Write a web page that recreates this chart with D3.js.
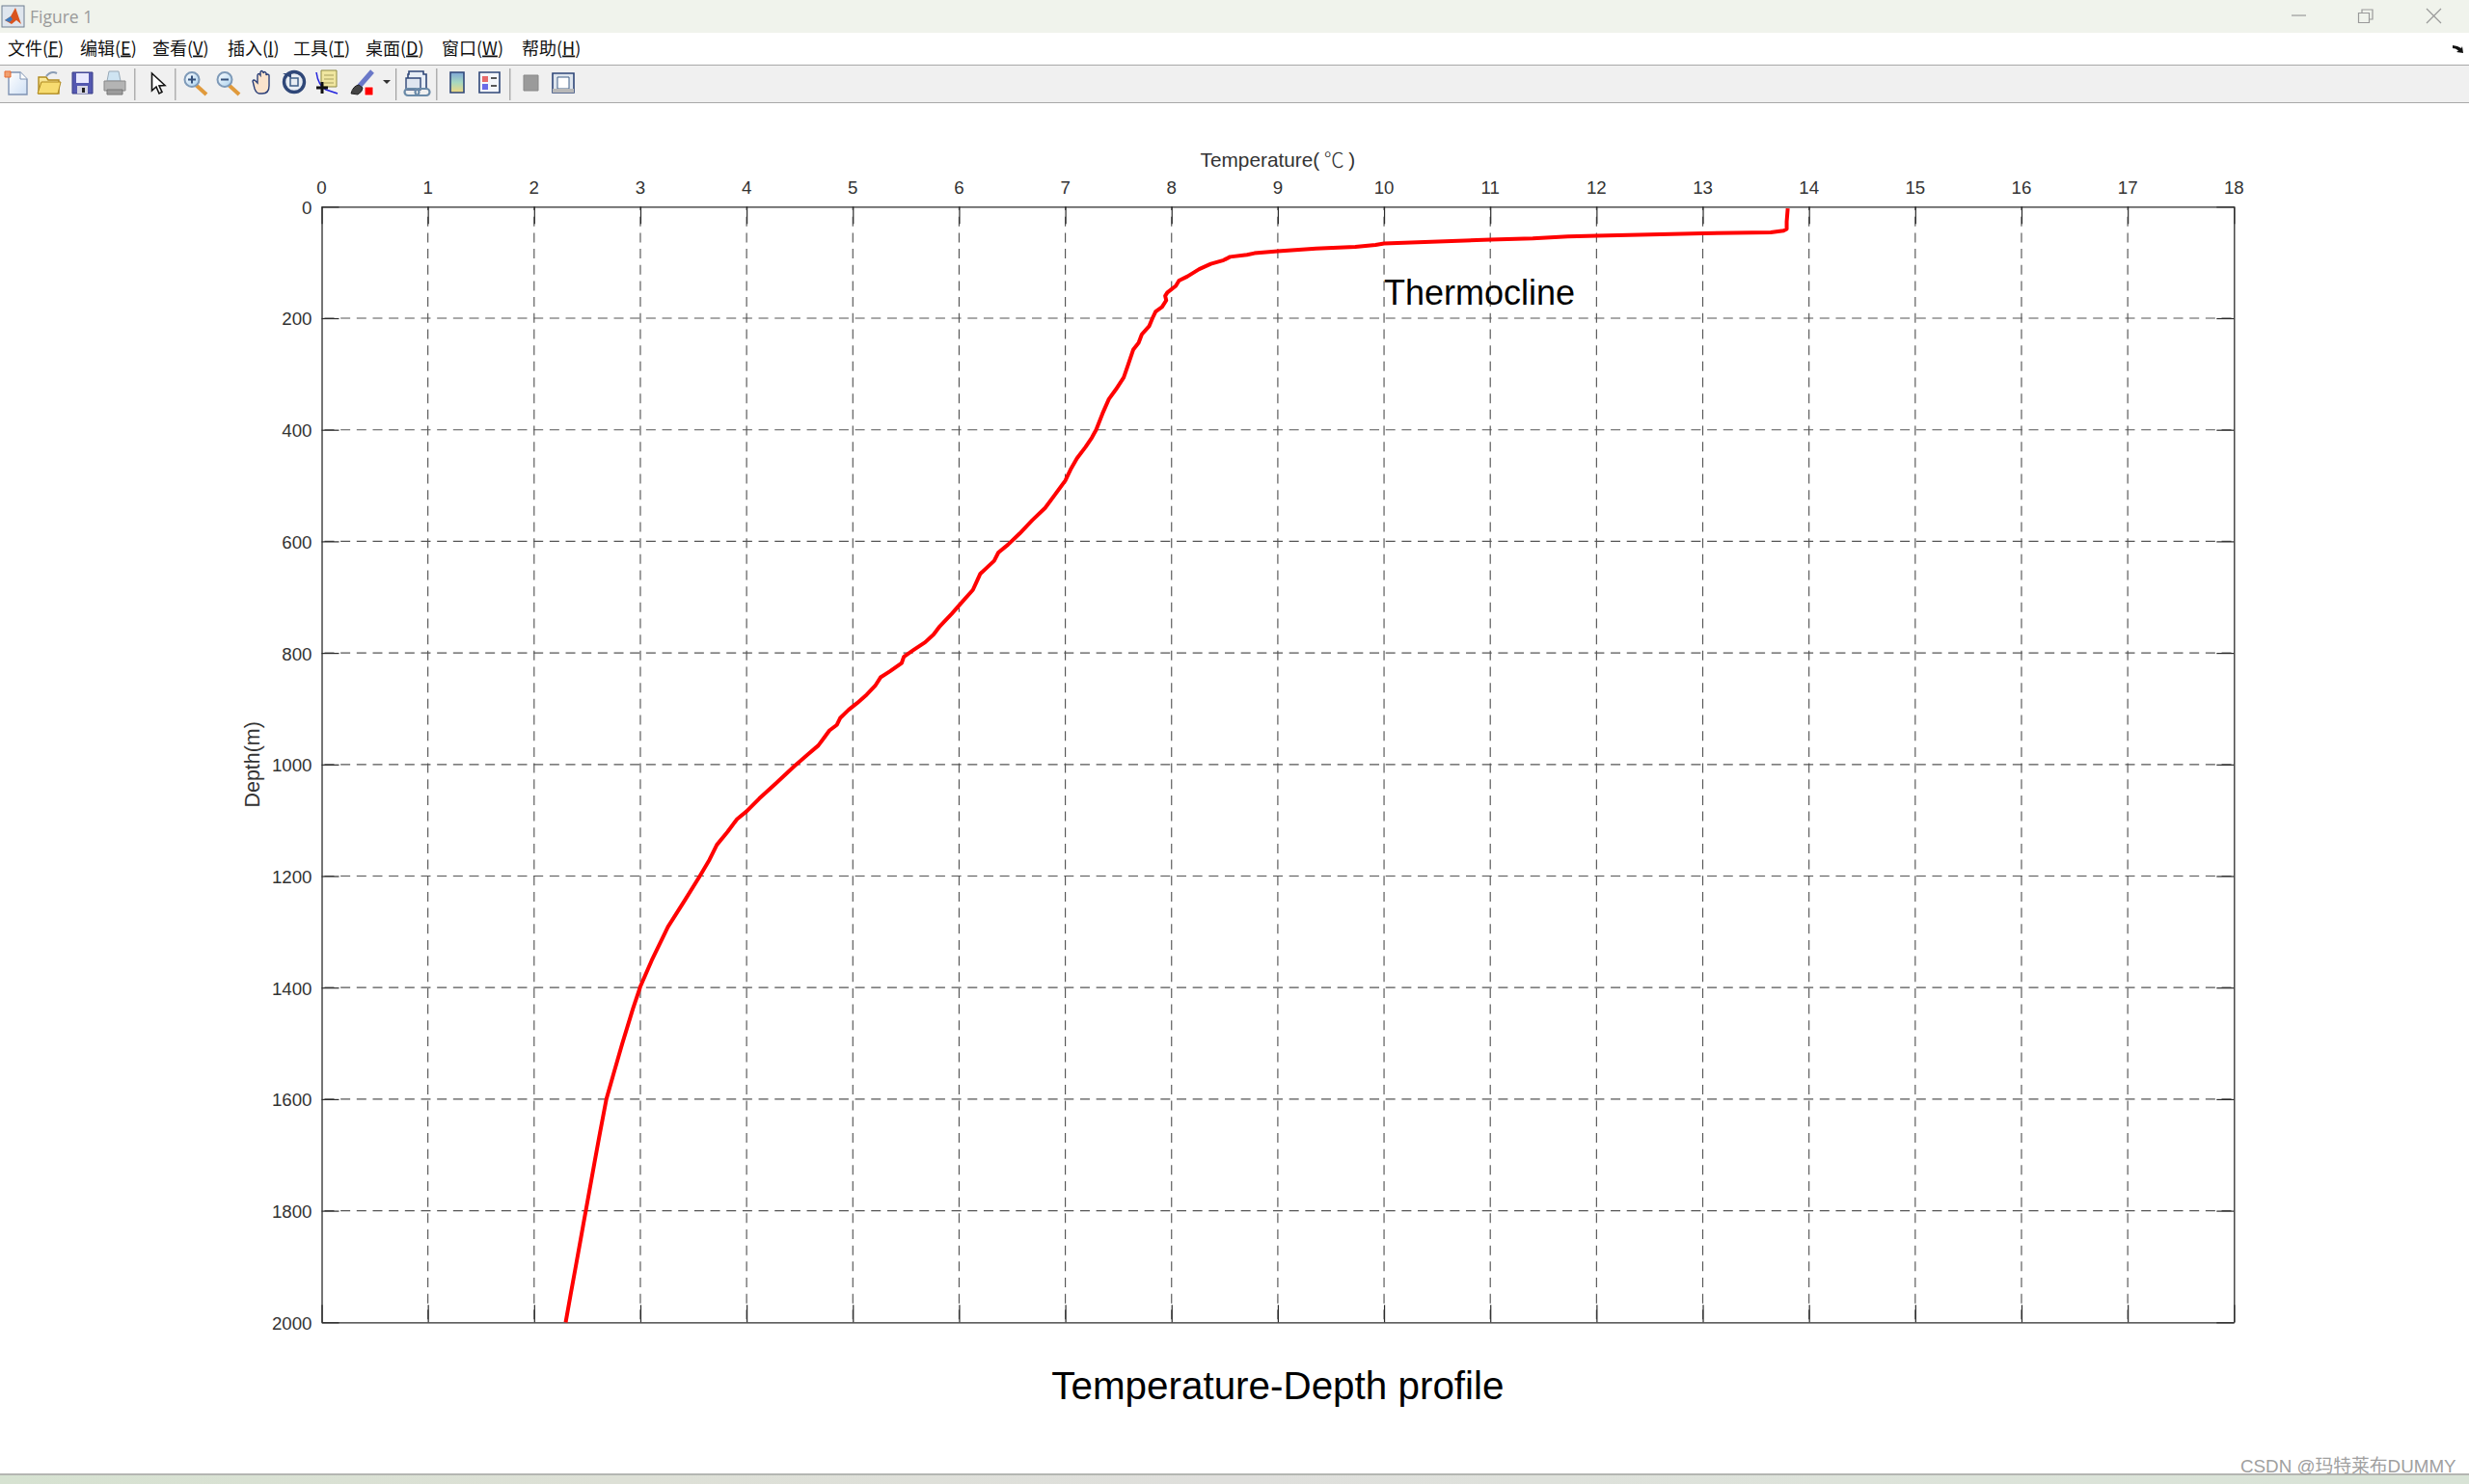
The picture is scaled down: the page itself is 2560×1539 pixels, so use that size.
<!DOCTYPE html>
<html>
<head>
<meta charset="utf-8">
<title>Figure 1</title>
<script src="https://cdn.jsdelivr.net/npm/d3@7"></script>
<style>
html,body{margin:0;padding:0;background:#fff;overflow:hidden}
svg{display:block}
text{font-family:"Liberation Sans",Arial,sans-serif}
</style>
</head>
<body>
<div id="chart"></div>
<script>
// ---- data ----
const depthValues = [3,27,40,43,46,48,52,53.6,57,59,66,68.6,72,75,80,83.5,86.4,90,96,102.6,112,125,132.5,142,154,160,168,180,188,200,214,229,244,256,284,306,328,345,371,400,414,431,451,471,491,517,540,562,586,606,620,635,658,687,704,730,752,767,781,795,807,818,833,844,859,875,890,902,917,929,939,952,966,983,1003,1035,1061,1084,1098,1121,1144,1171,1200,1246,1291,1352,1398,1438,1500,1553,1600,1660,1714,1793,1850,1904,1951,2000];
const tempValues = [13.8,13.79,13.79,13.76,13.64,13,12,11.73,11.4,11,10,9.92,9.73,9.36,9,8.78,8.71,8.55,8.49,8.37,8.26,8.15,8.07,8.04,7.96,7.94,7.95,7.91,7.85,7.82,7.79,7.72,7.69,7.64,7.59,7.55,7.475,7.41,7.35,7.29,7.25,7.19,7.11,7.05,7,6.9,6.81,6.69,6.57,6.46,6.37,6.33,6.2,6.13,6.05,5.93,5.82,5.76,5.68,5.57,5.48,5.46,5.35,5.26,5.21,5.13,5.04,4.96,4.88,4.85,4.78,4.73,4.675,4.57,4.45,4.27,4.12,4,3.91,3.82,3.72,3.65,3.56,3.41,3.26,3.105,3,2.93,2.83,2.75,2.68,2.62,2.568,2.493,2.439,2.388,2.343,2.297];
const tempTicks = d3.range(0, 19);
const depthTicks = [0,200,400,600,800,1000,1200,1400,1600,1800,2000];
const menuItems = [["文件","F",8],["编辑","E",83],["查看","V",158],["插入","I",236],["工具","T",304],["桌面","D",379],["窗口","W",458],["帮助","H",541]];
const separators = [139.7,181.7,410.5,452.7,528.7];

const W = 2560, H = 1539;
const box = {l:333.5, r:2316.3, t:214.3, b:1371.3};
const ink = "#2b2b2b";

const svg = d3.select("#chart").append("svg").attr("width",W).attr("height",H).attr("viewBox",`0 0 ${W} ${H}`);
const defs = svg.append("defs");
const grad = (id, stops, x2=1, y2=0) => {
  const g = defs.append("linearGradient").attr("id",id).attr("x1",0).attr("y1",0).attr("x2",x2).attr("y2",y2);
  stops.forEach(([o,c]) => g.append("stop").attr("offset",o).attr("stop-color",c));
};
grad("bottomStrip",[[0,"#d6e2d1"],[.25,"#dde0d6"],[.5,"#dfdfdc"],[.75,"#dde3da"],[1,"#d8e3d6"]]);
grad("cbar",[[0,"#7fa8d8"],[.5,"#a6d8c0"],[1,"#f0d880"]],0,1);
grad("docF",[[0,"#ffffff"],[1,"#cfe0f5"]],1,1);
grad("folder",[[0,"#fff2a8"],[1,"#d9a93a"]],0,1);
grad("glass",[[0,"#ffffff"],[1,"#a8d0ee"]],1,1);

// ---- window chrome ----
const chrome = svg.append("g");
chrome.append("rect").attr("width",W).attr("height",34).attr("fill","#f0f3ec");
chrome.append("rect").attr("y",34).attr("width",W).attr("height",33).attr("fill","#ffffff");
chrome.append("rect").attr("y",67).attr("width",W).attr("height",1).attr("fill","#a8a8a8");
chrome.append("rect").attr("y",68).attr("width",W).attr("height",38).attr("fill","#f0f0f0");
chrome.append("rect").attr("y",106).attr("width",W).attr("height",1).attr("fill","#a8a8a8");
chrome.append("rect").attr("y",1528).attr("width",W).attr("height",2).attr("fill","#b4b6b2");
chrome.append("rect").attr("y",1530).attr("width",W).attr("height",9).attr("fill","url(#bottomStrip)");

// app icon
const ico = chrome.append("g");
ico.append("rect").attr("x",2).attr("y",6).attr("width",23).attr("height",22).attr("fill","#dfe6ee").attr("stroke","#6f7f90").attr("stroke-width",1);
ico.append("path").attr("d","M5 21 L11 17 L16 8 L22 25 L17 21 L12 25 Z").attr("fill","#d9541e");
ico.append("path").attr("d","M5 21 L11 17 L13 20 L10 23 Z").attr("fill","#3a7cc0");
chrome.append("text").text("Figure 1").attr("x",31).attr("y",24).attr("fill","#9a9a9a")
  .style("font-family","'Open Sans','Noto Sans',sans-serif").style("font-size","17.5px");

// window buttons
chrome.append("path").attr("d","M2376 16H2391").attr("stroke","#999").attr("stroke-width",1.2).attr("fill","none");
chrome.append("path").attr("d","M2445.5 13.5h11v10h-11zM2449 13v-3h11v10h-3").attr("stroke","#999").attr("stroke-width",1.2).attr("fill","none");
chrome.append("path").attr("d","M2516 9L2531 24M2531 9L2516 24").attr("stroke","#999").attr("stroke-width",1.2).attr("fill","none");
chrome.append("path").attr("d","M2543 47l5 1 4 2 1-2 1 7-7 -1 2-1.500-3-2-3-.5z").attr("fill","#111");

// menu
menuItems.forEach(([zh,key,x]) => {
  const t = chrome.append("text").attr("x",x).attr("y",56.5).attr("fill","#111")
    .style("font-family","'Noto Sans CJK SC','Noto Sans',sans-serif").style("font-size","18px");
  t.append("tspan").text(zh + "(");
  t.append("tspan").text(key).style("text-decoration","underline");
  t.append("tspan").text(")");
});

// toolbar separators
separators.forEach(x => chrome.append("rect").attr("x",x-.5).attr("y",71).attr("width",1.2).attr("height",33).attr("fill","#a0a0a0"));

// toolbar icons
const tb = chrome.append("g");
const p = (d,f,s,w=1) => tb.append("path").attr("d",d).attr("fill",f||"none").attr("stroke",s||"none").attr("stroke-width",w);
// new
p("M9 75h12l7 7v16H9z","url(#docF)","#7f93b3",1.4);
p("M21 75v7h7","#ffffff","#7f93b3",1);
p("M5 74h6v6h-6z","#f0a070","#e86a30",1);
// open
p("M40 80h8l2 3h11v14H40z","url(#folder)","#b08a20",1.4);
p("M48 79 q5 -6 11 -3","none","#8a9cb4",2);
p("M39 97l4-12h20l-3 12z","#f7dc70","#b08a20",1);
// save
p("M75 75h21v22H75z","#5458b0","#3a3e88",1);
p("M79 76h13v10H79z","#e9e9ff");
p("M80 89h11v8H80z","#d5d5e4");
p("M85 91h3v5h-3z","#222");
// print
p("M113 74h10l2 10h-14z","#cfe4f2","#9aaab8",1);
p("M108 84h22v10h-22z","#b4b4b4","#888",1);
p("M111 93h16v5h-16z","#9c9c9c","#777",1);
// pointer
p("M157.500 76 V94 l4.500-4 3 7 3-1.500-3-6.500 6-.5 z","#ffffff","#111",1.6);
// zoom in/out
[[191,"+"],[225,"-"]].forEach(([x,s]) => {
  p(`M${x+12} ${88}l11 10`,"none","#e09a3c",4);
  tb.append("circle").attr("cx",x+8).attr("cy",82.5).attr("r",7.5).attr("fill","url(#glass)").attr("stroke","#7e9ab8").attr("stroke-width",2);
  p(`M${x+4} 82.5h8`,"none","#35507a",2);
  if(s==="+") p(`M${x+8} 78.500v8`,"none","#35507a",2);
});
// hand
p("M262 84q1-2 3 0l2 2v-8q1-3 3 0v-3q1-3 3 0v1q1-3 3 0v2q1-2 3 0v11q0 8-7 8h-3q-3 0-5-5z","#fbe3cc","#2b3f78",1.4);
// rotate
tb.append("circle").attr("cx",305).attr("cy",85).attr("r",10.5).attr("fill","#e8edf3").attr("stroke","#2f4778").attr("stroke-width",3.4);
p("M301 81h8v8h-8z","none","#3f5f88",1.5);
p("M293 76h9v5z","#2f4778");
// data cursor
p("M333 73h16v17h-16z","#f0e6a0","#8f8a40",1);
p("M336 78h10M336 82h10M336 86h10","none","#a8a060",1.2);
p("M328 75q2 14 10 18l12 4","none","#2222dd",1.5);
p("M328 91h12M334 85v12","none","#111",3);
// brush
p("M386 74l-14 16","none","#6a78c8",5);
p("M372 88q-6 1-8 9l7 1q5-3 5-7z","#444","#222",1);
p("M378 90h9v9h-9z","#ff0000","#ffffff",1);
p("M397 83h8l-4 4z","#333");
// link plot
p("M424 74h15v3h3v15h-19v-15h1z","#e8eef6","#2f4778",1.6);
p("M421 81h15v12h-15z","#dfe6f0","#2f4778",1.4);
p("M423 92h8a3.500 3.500 0 0 1 0 7h-8a3.500 3.500 0 0 1 0-7zM434 92h8a3.500 3.500 0 0 1 0 7h-8a3.500 3.500 0 0 1 0-7z","none","#6a8aa8",2.2);
// colorbar
p("M467 75h14v21h-14z","url(#cbar)","#2f4778",1.6);
// legend
p("M497 75h21v21h-21z","#f4f6fa","#2f4778",1.6);
p("M500 79h6v6h-6z","#e86a6a");
p("M500 87h6v6h-6z","#6a6ae8");
p("M509 81h6M509 89h6","none","#222",1.6);
// hide / show
p("M543 78h15v16h-15z","#9a9a9a","#888",1);
p("M573 76h22v20h-22z","#dfe6ee","#2f4778",1.6);
p("M578 80h12v12h-12z","#ffffff","#3f5f88",1);
p("M573 92h22v4h-22z","#b8b8b8");

// ---- scales ----
const xScale = d3.scaleLinear().domain([0,18]).range([box.l,box.r]);
const yScale = d3.scaleLinear().domain([0,2000]).range([box.t,box.b]);

// ---- grid ----
const grid = svg.append("g").attr("stroke","#555").attr("stroke-width",1.15).attr("stroke-dasharray","10 6.67").attr("fill","none");
grid.selectAll("line.v").data(tempTicks.slice(1,-1)).join("line").attr("class","v")
  .attr("x1",d=>xScale(d)).attr("x2",d=>xScale(d)).attr("y1",box.b).attr("y2",box.t).attr("stroke-dashoffset",13.7);
grid.selectAll("line.h").data(depthTicks.slice(1,-1)).join("line").attr("class","h")
  .attr("x1",box.l).attr("x2",box.r).attr("y1",d=>yScale(d)).attr("y2",d=>yScale(d)).attr("stroke-dashoffset",13.7);

// ---- axes ----
const tl = 18;
const styleAxis = g => {
  g.selectAll("path.domain").attr("stroke",ink).attr("stroke-width",1.3);
  g.selectAll(".tick line").attr("stroke",ink).attr("stroke-width",1.2);
  g.selectAll(".tick text").attr("fill","#333").style("font-family","'Liberation Sans',Arial,sans-serif").style("font-size","18.7px");
};
svg.append("g").attr("transform",`translate(0,${box.t})`)
  .call(d3.axisTop(xScale).tickValues(tempTicks).tickFormat(d3.format("d")).tickSizeInner(-tl).tickSizeOuter(0).tickPadding(13)).call(styleAxis)
  .selectAll(".tick text").attr("dx",-0.5);
svg.append("g").attr("transform",`translate(${box.l},0)`)
  .call(d3.axisLeft(yScale).tickValues(depthTicks).tickFormat(d3.format("d")).tickSizeInner(-tl).tickSizeOuter(0).tickPadding(10)).call(styleAxis)
  .selectAll(".tick text").attr("dy","0.37em");
svg.append("g").attr("transform",`translate(0,${box.b})`)
  .call(d3.axisBottom(xScale).tickValues(tempTicks).tickFormat("").tickSizeInner(-tl).tickSizeOuter(0)).call(styleAxis);
svg.append("g").attr("transform",`translate(${box.r},0)`)
  .call(d3.axisRight(yScale).tickValues(depthTicks).tickFormat("").tickSizeInner(-tl).tickSizeOuter(0)).call(styleAxis);

// ---- profile ----
const profile = d3.zip(tempValues, depthValues);
svg.append("path").datum(profile)
  .attr("fill","none").attr("stroke","#ff0000").attr("stroke-width",4).attr("stroke-linejoin","round")
  .attr("d", d3.line().x(d=>xScale(d[0])).y(d=>yScale(d[1])));

// ---- labels ----
const cx = (box.l+box.r)/2;
const xl = svg.append("text").attr("x",cx).attr("y",172.5).attr("text-anchor","middle").attr("fill","#333").style("font-size","20.8px");
xl.append("tspan").text("Temperature(");
xl.append("tspan").text("℃").attr("dx",4.5).style("font-family","'Noto Sans CJK SC'").style("font-size","21px").style("font-weight",300);
xl.append("tspan").text(")").attr("dx",4.5);
svg.append("text").text("Depth(m)").attr("text-anchor","middle").attr("fill","#333").style("font-size","21.4px")
  .attr("transform",`translate(269.3,${(box.t+box.b)/2}) rotate(-90)`);
svg.append("text").text("Thermocline").attr("x",xScale(10)).attr("y",316).attr("fill","#000").style("font-size","36px");
svg.append("text").text("Temperature-Depth profile").attr("x",cx).attr("y",1451).attr("text-anchor","middle").attr("fill","#000").style("font-size","40.4px");

// ---- watermark ----
svg.append("text").text("CSDN @玛特莱布DUMMY").attr("x",2323).attr("y",1527).attr("fill","#a0a0a0")
  .style("font-family","'Liberation Sans','Noto Sans CJK SC',sans-serif").style("font-size","18.8px");
</script>
</body>
</html>
